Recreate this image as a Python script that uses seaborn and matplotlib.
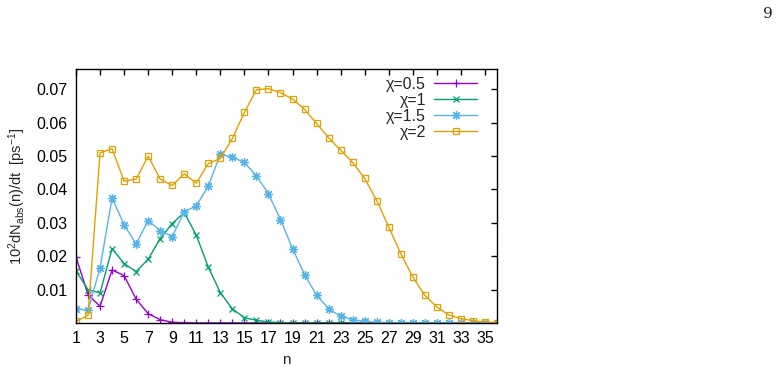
import numpy as np
import pandas as pd
import seaborn as sns
import matplotlib.pyplot as plt

# values
n = np.arange(1, 37)

chi_labels = ["χ=0.5", "χ=1", "χ=1.5", "χ=2"]

rate_chi05 = [0.0198, 0.0085, 0.0050, 0.0159, 0.0142, 0.0071, 0.0028, 0.0010, 0.0002, 0.0001,
              0.0, 0.0, 0.0, 0.0, 0.0, 0.0, 0.0, 0.0, 0.0, 0.0,
              0.0, 0.0, 0.0, 0.0, 0.0, 0.0, 0.0, 0.0, 0.0, 0.0,
              0.0, 0.0, 0.0, 0.0, 0.0, 0.0]
rate_chi1 = [0.0156, 0.0100, 0.0090, 0.0223, 0.0178, 0.0154, 0.0191, 0.0253, 0.0298, 0.0331,
             0.0263, 0.0167, 0.0091, 0.0042, 0.0016, 0.0008, 0.0003, 0.0001, 0.0, 0.0,
             0.0, 0.0, 0.0, 0.0, 0.0, 0.0, 0.0, 0.0, 0.0, 0.0,
             0.0, 0.0, 0.0, 0.0, 0.0, 0.0]
rate_chi15 = [0.0043, 0.0038, 0.0165, 0.0375, 0.0294, 0.0237, 0.0307, 0.0277, 0.0259, 0.0333,
              0.0351, 0.0410, 0.0506, 0.0497, 0.0481, 0.0441, 0.0387, 0.0310, 0.0223, 0.0145,
              0.0083, 0.0043, 0.0020, 0.0010, 0.0005, 0.0002, 0.0001, 0.0, 0.0, 0.0,
              0.0, 0.0, 0.0, 0.0, 0.0, 0.0]
rate_chi2 = [0.0005, 0.0023, 0.0510, 0.0522, 0.0425, 0.0431, 0.0500, 0.0431, 0.0412, 0.0447,
             0.0419, 0.0478, 0.0493, 0.0553, 0.0631, 0.0699, 0.0702, 0.0690, 0.0671, 0.0640,
             0.0598, 0.0555, 0.0518, 0.0481, 0.0433, 0.0367, 0.0288, 0.0208, 0.0138, 0.0083,
             0.0048, 0.0024, 0.0013, 0.0007, 0.0003, 0.0001]

rates = [rate_chi05, rate_chi1, rate_chi15, rate_chi2]
colors = ["#9400D3", "#009E73", "#56B4E9", "#E69F00"]
markers = ["+", "x", (8, 2, 0), "s"]
msizes = [6, 5, 6.5, 5]

sns.set_style("white")
plt.rcParams["font.family"] = ["Liberation Sans", "DejaVu Sans"]
plt.rcParams["mathtext.default"] = "regular"

fig = plt.figure(figsize=(7.79, 3.69), dpi=100)
ax = fig.add_axes([76 / 779, 46 / 369, 421 / 779, 254 / 369])

for label, vals, col, mk, ms in zip(chi_labels, rates, colors, markers, msizes):
    df = pd.DataFrame({"n": n, "rate": vals})
    sns.lineplot(data=df, x="n", y="rate", ax=ax, color=col, marker=mk,
                 markersize=ms, markerfacecolor="none", markeredgecolor=col,
                 markeredgewidth=0.9, linewidth=1, label=label)

ax.set_xlim(1, 36)
ax.set_ylim(0, 0.0761)
ax.set_xticks(np.arange(1, 37, 2))
ax.set_yticks([0.01, 0.02, 0.03, 0.04, 0.05, 0.06, 0.07])
ax.set_yticklabels(["0.01", "0.02", "0.03", "0.04", "0.05", "0.06", "0.07"])
ax.tick_params(direction="in", length=4, width=1, top=True, right=True,
               labelsize=11.5, colors="black", pad=6)
for s in ax.spines.values():
    s.set_color("black")
    s.set_linewidth(1)

ax.set_xlabel("n", fontsize=11, labelpad=5)
ax.set_ylabel(r"10$^2$dN$_{abs}$(n)/dt  [ps$^{-1}$]", fontsize=10.5, labelpad=6)

ax.legend(loc="upper right", bbox_to_anchor=(0.972, 1.0), frameon=False,
          markerfirst=False, handlelength=2.7, handletextpad=0.5,
          labelspacing=0.06, borderpad=0, fontsize=11.5)

fig.text(768 / 779, 1 - 14 / 369, "9", family="DejaVu Serif", fontsize=11,
         ha="center", va="center")

fig.savefig("out.png", dpi=100)
